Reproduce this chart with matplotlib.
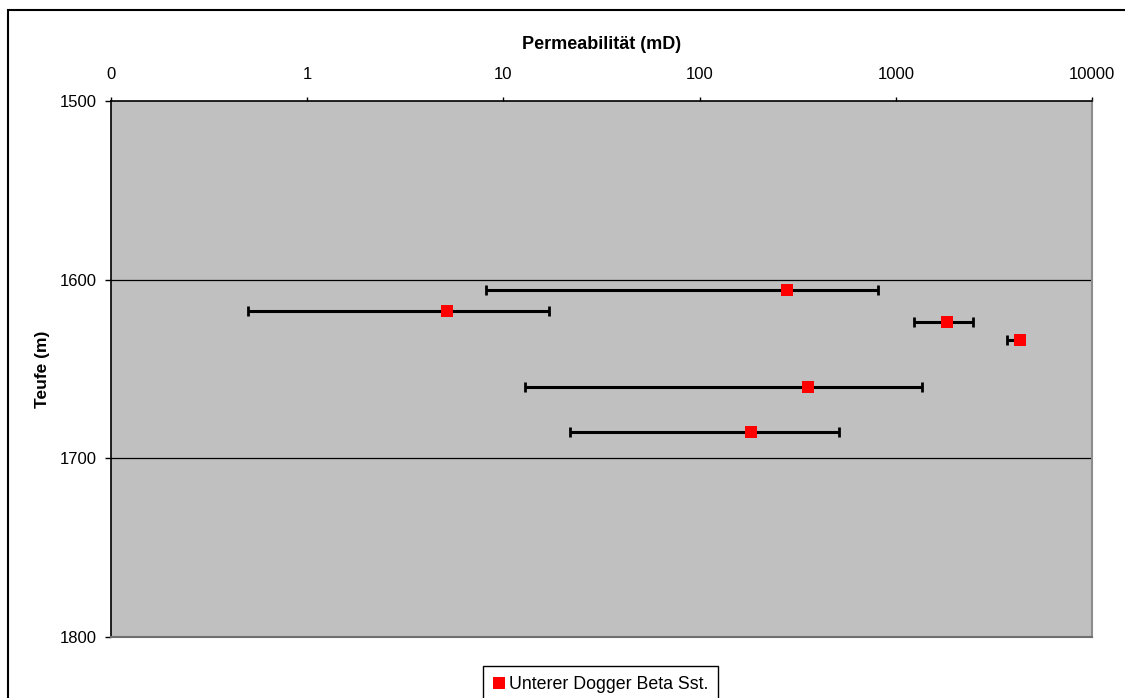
import numpy as np
import matplotlib
matplotlib.use('Agg')
import matplotlib.pyplot as plt
from matplotlib.patches import Rectangle
from matplotlib.ticker import FixedLocator, FixedFormatter

plt.rcParams['font.family'] = ['Liberation Sans', 'DejaVu Sans']

# Teufe (m) und Permeabilitaet (mD) mit Min/Max
depth = [1605.8, 1617.3, 1623.5, 1633.5, 1659.8, 1685.1]
perm = [280, 5.19, 1828, 4263, 358, 183]
perm_min = [8.19, 0.50, 1241, 3667, 12.9, 21.9]
perm_max = [813, 17.1, 2462, 4450, 1353, 515]

x_ticks = [0.1, 1, 10, 100, 1000, 10000]
x_labels = ['0', '1', '10', '100', '1000', '10000']
y_ticks = [1500, 1600, 1700, 1800]
series_name = 'Unterer Dogger Beta Sst.'

W, H = 1125, 698
fig = plt.figure(figsize=(W / 100, H / 100), dpi=100)
fig.patch.set_facecolor('white')

ax = fig.add_axes([110.7 / W, 1 - 637 / H, (1092.3 - 110.7) / W, (637 - 101) / H])
ax.set_facecolor('#c0c0c0')

perm_a = np.array(perm)
xerr = [perm_a - np.array(perm_min), np.array(perm_max) - perm_a]

ax.errorbar(perm, depth, xerr=xerr, fmt='none', ecolor='black',
            elinewidth=2.2, capsize=3.5, capthick=2, zorder=3)
ax.plot(perm, depth, linestyle='none', marker='s', markersize=9.2,
        color='#ff0000', markeredgewidth=0, label=series_name, zorder=4)

ax.set_xscale('log')
ax.set_xlim(0.1, 10000)
ax.set_ylim(1800, 1500)
ax.xaxis.set_major_locator(FixedLocator(x_ticks))
ax.xaxis.set_major_formatter(FixedFormatter(x_labels))
ax.xaxis.set_minor_locator(FixedLocator([]))
ax.set_yticks(y_ticks)

ax.xaxis.tick_top()
ax.xaxis.set_label_position('top')
ax.tick_params(axis='x', direction='out', length=3, width=1, pad=10.5,
               labelsize=12, colors='black')
ax.tick_params(axis='y', direction='out', length=4.3, width=1, pad=6,
               labelsize=12, colors='black')

for y in y_ticks[1:-1]:
    ax.axhline(y, color='black', linewidth=0.9, zorder=1)

ax.spines['top'].set_color('black')
ax.spines['top'].set_linewidth(1.2)
ax.spines['left'].set_color('black')
ax.spines['left'].set_linewidth(1.2)
ax.spines['right'].set_color('#8c8c8c')
ax.spines['right'].set_linewidth(1.5)
ax.spines['bottom'].set_color('#6e6e6e')
ax.spines['bottom'].set_linewidth(1.5)

ax.set_xlabel('Permeabilität (mD)', fontsize=13, fontweight='bold', labelpad=13)
ax.set_ylabel('Teufe (m)', fontsize=12.5, fontweight='bold', labelpad=6.5)

fig.legend(loc='upper left', bbox_to_anchor=(483 / W, 1 - 666 / H),
           fontsize=12.8, frameon=True, fancybox=False, edgecolor='black',
           framealpha=1, handlelength=0.75, handletextpad=0.15,
           borderpad=0.55, borderaxespad=0, markerscale=1)

fig.patches.append(Rectangle((7.5 / W, -0.1), 1.2, 1 - 10.3 / H + 0.1,
                             transform=fig.transFigure, fill=False,
                             edgecolor='black', linewidth=1.5))

fig.savefig('out.png', dpi=100)
